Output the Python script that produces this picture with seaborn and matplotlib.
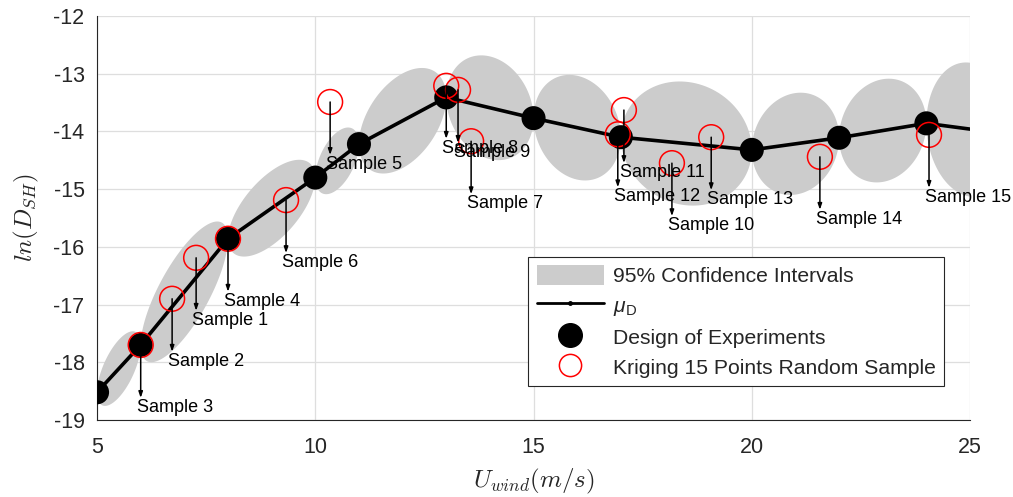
import numpy as np
import matplotlib
matplotlib.use('Agg')
import matplotlib.pyplot as plt
from matplotlib.patches import Patch
from matplotlib.lines import Line2D
import seaborn as sns
import pandas as pd

# design of experiments (mean response)
doe_x = [5, 6, 8, 10, 11, 13, 15, 17, 20, 22, 24]
doe_y = [-18.52, -17.70, -15.86, -14.80, -14.22, -13.41, -13.77, -14.10, -14.32, -14.11, -13.86]
mu_end_x = 25
mu_end_y = -13.96

# confidence ellipses, one per segment (last one runs past the axis)
ci_end_x = 26
ci_end_y = -14.08
ci_half = [0.50, 0.80, 0.65, 0.50, 0.82, 0.89, 0.90, 1.07, 0.88, 0.89, 1.16]

# kriging random samples
sample_names = ['Sample %d' % i for i in range(1, 16)]
sample_x = [7.27, 6.72, 6.00, 8.00, 10.34, 9.33, 13.57, 13.00, 13.27, 18.17, 17.07, 16.93, 19.07, 21.56, 24.06]
sample_y = [-16.19, -16.90, -17.70, -15.86, -13.49, -15.19, -14.17, -13.21, -13.28, -14.55, -13.63, -14.05, -14.10, -14.44, -14.06]

sns.set_style('white')
plt.rcParams['font.family'] = ['Liberation Sans', 'DejaVu Sans']
plt.rcParams['mathtext.fontset'] = 'custom'
plt.rcParams['mathtext.rm'] = 'Liberation Sans'
plt.rcParams['mathtext.it'] = 'Liberation Sans:italic'
plt.rcParams['axes.unicode_minus'] = False

dark = '#262626'
grey = '#cccccc'

fig = plt.figure(figsize=(10.13, 4.97), dpi=100)
ax = fig.add_axes([0.0958, 0.155, 0.8618, 0.8128])

# CI ellipses: conjugate to the segment between consecutive DOE points
kx = doe_x + [ci_end_x]
ky = doe_y + [ci_end_y]
t = np.linspace(0, 2 * np.pi, 120)
for i, h in enumerate(ci_half):
    mx, my = (kx[i] + kx[i + 1]) / 2, (ky[i] + ky[i + 1]) / 2
    dx, dy = (kx[i + 1] - kx[i]) / 2, (ky[i + 1] - ky[i]) / 2
    ax.fill(mx + dx * np.cos(t), my + dy * np.cos(t) + h * np.sin(t),
            color=grey, lw=0, zorder=1)

mu = pd.DataFrame({'x': doe_x + [mu_end_x], 'y': doe_y + [mu_end_y]})
sns.lineplot(data=mu, x='x', y='y', color='black', lw=2.6, ax=ax, zorder=3,
             sort=False)
sns.scatterplot(x=doe_x, y=doe_y, color='black', s=300, edgecolor='none',
                ax=ax, zorder=4)
ax.scatter(sample_x, sample_y, s=320, facecolors='none', edgecolors='red',
           linewidths=1.1, zorder=5)

for name, sx, sy in zip(sample_names, sample_x, sample_y):
    ax.annotate('', xy=(sx, sy), xytext=(0, -53), textcoords='offset pixels',
                arrowprops=dict(arrowstyle='<|-,head_length=0.35,head_width=0.12',
                                color='black', lw=1.1, shrinkA=0, shrinkB=0),
                zorder=6)
    ax.annotate(name, xy=(sx, sy), xytext=(-4, -54), textcoords='offset pixels',
                ha='left', va='top', fontsize=13, color='black', zorder=6,
                annotation_clip=False)

ax.set_xlim(5, 25)
ax.set_ylim(-19, -12)
ax.set_xticks([5, 10, 15, 20, 25])
ax.set_yticks(range(-19, -11))
ax.grid(True, color='#dedede', lw=0.9)
ax.set_axisbelow(True)
for s in ['top', 'right']:
    ax.spines[s].set_visible(False)
for s in ['left', 'bottom']:
    ax.spines[s].set_color(dark)
    ax.spines[s].set_linewidth(0.8)
ax.tick_params(direction='in', length=5, width=0.8, color=dark,
               labelcolor=dark, labelsize=15.5)
ax.tick_params(axis='x', pad=12)
ax.tick_params(axis='y', pad=9)

ax.set_xlabel(r'$U_{wind}(m/s)$', fontsize=18, math_fontfamily='cm', color=dark)
ax.set_ylabel(r'$ln(D_{SH})$', fontsize=18, math_fontfamily='cm', color=dark)
ax.xaxis.set_label_coords(0.5, -0.116)
ax.yaxis.set_label_coords(-0.064, 0.5)

handles = [Patch(facecolor=grey, edgecolor='none'),
           Line2D([], [], color='black', lw=2, marker='.', markersize=5),
           Line2D([], [], ls='none', marker='o', markersize=17, color='black'),
           Line2D([], [], ls='none', marker='o', markersize=16, mfc='none',
                  mec='red', mew=1.1)]
labels = ['95% Confidence Intervals', r'$\mu_\mathrm{D}$',
          'Design of Experiments', 'Kriging 15 Points Random Sample']
leg = ax.legend(handles, labels, loc='lower right', bbox_to_anchor=(0.970, 0.084),
                fontsize=15.2, frameon=True, fancybox=False, edgecolor=dark,
                framealpha=1, handlelength=3.2, handleheight=1.1,
                handletextpad=0.4, borderpad=0.4, labelspacing=0.4,
                borderaxespad=0)
leg.get_frame().set_linewidth(0.8)

fig.savefig('out.png', dpi=100)
